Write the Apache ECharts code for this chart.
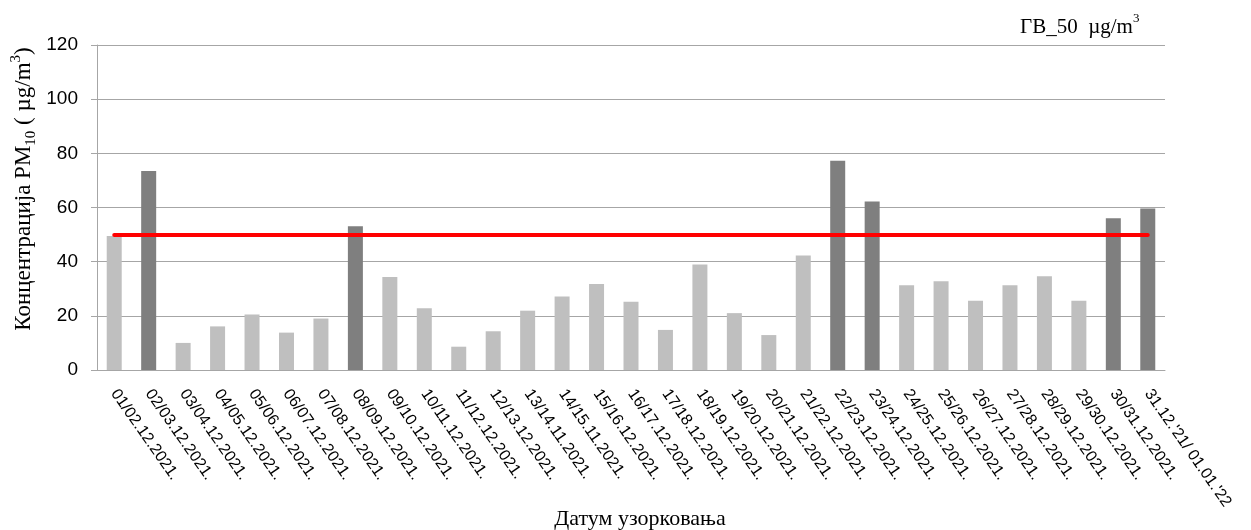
<!DOCTYPE html>
<html>
<head>
<meta charset="utf-8">
<script src="https://cdn.jsdelivr.net/npm/echarts@6/dist/echarts.min.js"></script>
<style>html,body{margin:0;padding:0;background:#fff}#c{width:1251px;height:530px}</style>
</head>
<body>
<div id="c"></div>
<script>
const categories = [
  "01/02.12.2021.","02/03.12.2021.","03/04.12.2021.","04/05.12.2021.","05/06.12.2021.",
  "06/07.12.2021.","07/08.12.2021.","08/09.12.2021.","09/10.12.2021.","10/11.12.2021.",
  "11/12.12.2021.","12/13.12.2021.","13/14.11.2021.","14/15.11.2021.","15/16.12.2021.",
  "16/17.12.2021.","17/18.12.2021.","18/19.12.2021.","19/20.12.2021.","20/21.12.2021.",
  "21/22.12.2021.","22/23.12.2021.","23/24.12.2021.","24/25.12.2021.","25/26.12.2021.",
  "26/27.12.2021.","27/28.12.2021.","28/29.12.2021.","29/30.12.2021.","30/31.12.2021.",
  "31.12.'21/ 01.01.'22"
];
const pm10 = [
  49.5, 73.5, 10.0, 16.1, 20.5, 13.8, 19.0, 53.1, 34.3, 22.8,
  8.6, 14.3, 21.9, 27.1, 31.8, 25.2, 14.8, 39.0, 21.0, 12.9,
  42.3, 77.3, 62.2, 31.3, 32.8, 25.6, 31.3, 34.6, 25.6, 56.0,
  59.6
];
const LIMIT = 50;
const yTicks = { min: 0, max: 120, interval: 20 };

const chart = echarts.init(document.getElementById('c'), null, { renderer: 'canvas' });
const gridColor = '#a6a6a6';
chart.setOption({
  animation: false,
  backgroundColor: '#fff',
  graphic: [{
    type: 'text', left: 1020, top: 12,
    style: {
      text: '{n|ГВ_50  µg/m}{s|3}',
      rich: {
        n: { fontFamily: 'Liberation Serif', fontSize: 21, fill: '#000', lineHeight: 26, verticalAlign: 'bottom' },
        s: { fontFamily: 'Liberation Serif', fontSize: 13, fill: '#000', lineHeight: 26, verticalAlign: 'top', padding: [0, 0, 10, 0] }
      }
    }
  }, {
    type: 'text', x: 24, y: 189, rotation: Math.PI / 2,
    style: {
      text: '{n|Концентрација PM}{sub|10}{n| ( µg/m}{sup|3}{n|)}',
      align: 'center', verticalAlign: 'middle',
      rich: {
        n: { fontFamily: 'Liberation Serif', fontSize: 23, fill: '#000', lineHeight: 30, verticalAlign: 'middle' },
        sub: { fontFamily: 'Liberation Serif', fontSize: 15, fill: '#000', lineHeight: 30, verticalAlign: 'bottom' },
        sup: { fontFamily: 'Liberation Serif', fontSize: 15, fill: '#000', lineHeight: 30, verticalAlign: 'top' }
      }
    }
  }, {
    type: 'text', x: 640, y: 519,
    style: {
      text: 'Датум узорковања',
      align: 'center', verticalAlign: 'middle',
      fontFamily: 'Liberation Serif', fontSize: 22, fill: '#000'
    }
  }],
  grid: { left: 97, right: 86, top: 45, bottom: 160, containLabel: false, outerBoundsMode: 'none' },
  xAxis: {
    type: 'category',
    data: categories,
    boundaryGap: true,
    axisLine: { show: true, lineStyle: { color: gridColor, width: 1 } },
    axisTick: { show: false },
    axisLabel: {
      interval: 0, rotate: -55, margin: 21,
      fontFamily: 'Liberation Sans', fontSize: 16, color: '#000'
    }
  },
  yAxis: {
    type: 'value',
    min: yTicks.min, max: yTicks.max, interval: yTicks.interval,
    axisLine: { show: true, lineStyle: { color: gridColor, width: 1 } },
    axisTick: { show: true, length: 6, lineStyle: { color: gridColor } },
    splitLine: { show: true, lineStyle: { color: gridColor, width: 1 } },
    axisLabel: { fontFamily: 'Liberation Sans', fontSize: 19, color: '#000', margin: 19 }
  },
  series: [{
    type: 'bar',
    data: pm10.map(v => ({ value: v, itemStyle: { color: v > LIMIT ? '#7f7f7f' : '#bfbfbf' } })),
    barWidth: 15,
    markLine: {
      silent: true,
      symbol: ['none', 'none'],
      label: { show: false },
      lineStyle: { color: '#ff0000', width: 4, type: 'solid', cap: 'round' },
      data: [[
        { coord: [categories[0], LIMIT] },
        { coord: [categories[categories.length - 1], LIMIT] }
      ]],
      z: 10
    }
  }]
});
</script>
</body>
</html>
